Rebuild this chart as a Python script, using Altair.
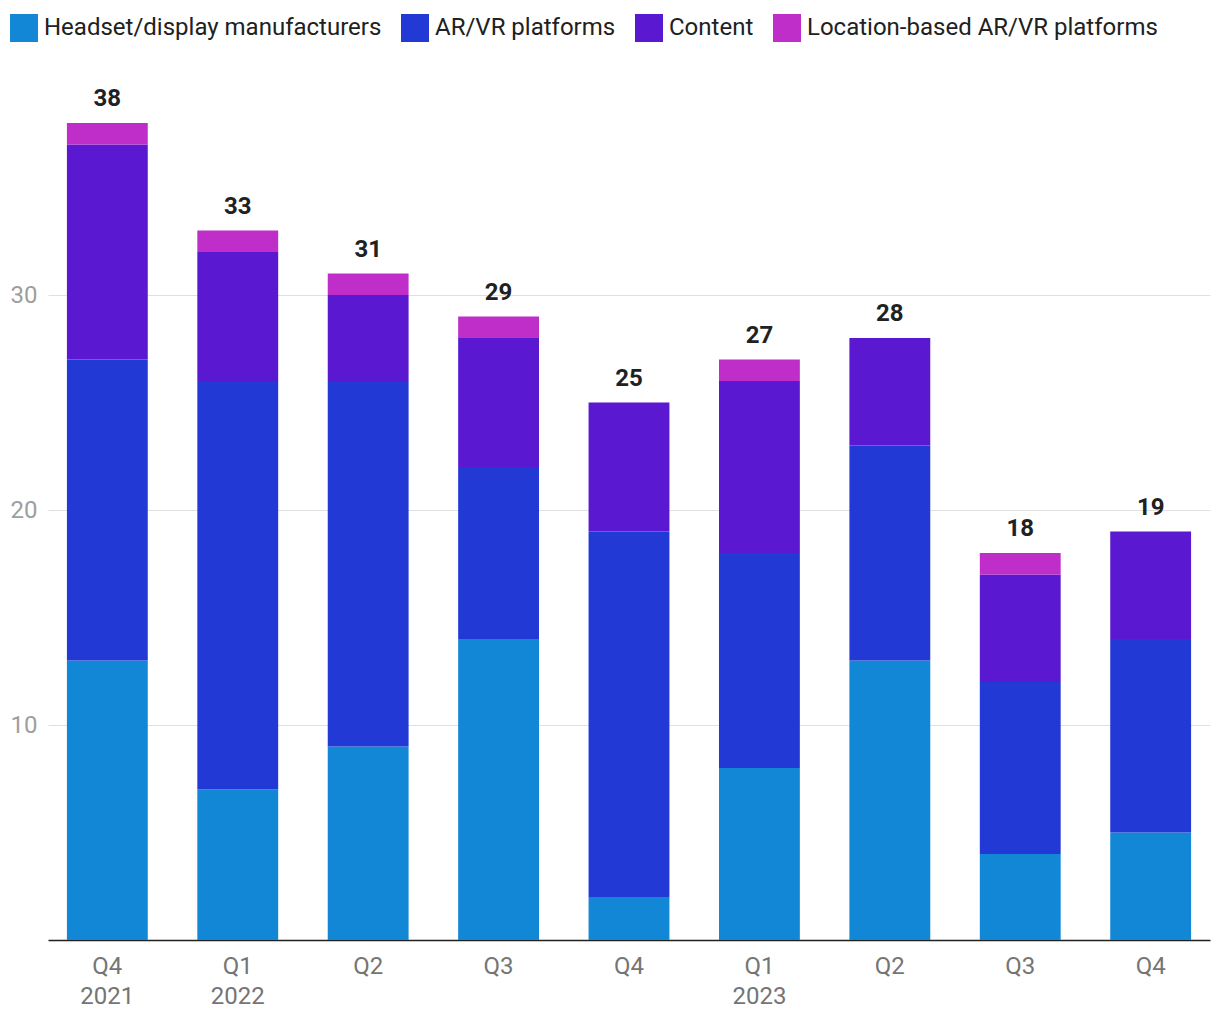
import altair as alt
import pandas as pd

quarters = ["Q4 2021", "Q1 2022", "Q2 2022", "Q3 2022", "Q4 2022",
            "Q1 2023", "Q2 2023", "Q3 2023", "Q4 2023"]
year_shown = ["Q4 2021", "Q1 2022", "Q1 2023"]
series = ["Headset/display manufacturers", "AR/VR platforms", "Content",
          "Location-based AR/VR platforms"]
colors = ["#1287d6", "#2339d5", "#5a19d1", "#c02ec9"]

headset = [13, 7, 9, 14, 2, 8, 13, 4, 5]
arvr = [14, 19, 17, 8, 17, 10, 10, 8, 9]
content = [10, 6, 4, 6, 6, 8, 5, 5, 5]
location = [1, 1, 1, 1, 0, 1, 0, 1, 0]

values_by_series = [headset, arvr, content, location]
rows = []
for si, (name, vals) in enumerate(zip(series, values_by_series)):
    for q, v in zip(quarters, vals):
        rows.append({"quarter": q, "series": name, "value": v, "idx": si})
df = pd.DataFrame(rows)

totals = pd.DataFrame({
    "quarter": quarters,
    "total": [sum(v[i] for v in values_by_series) for i in range(len(quarters))],
})

label_expr = ("indexof([" + ",".join("'" + q + "'" for q in year_shown) +
              "], datum.value) >= 0 ? split(datum.value, ' ') : split(datum.value, ' ')[0]")

x_enc = alt.X("quarter:N", sort=quarters, title=None,
              scale=alt.Scale(paddingInner=0.38, paddingOuter=0.145),
              axis=alt.Axis(labelExpr=label_expr, labelAngle=0, labelFontSize=24,
                            labelColor="#757575", labelLineHeight=30,
                            labelPadding=14, ticks=False, tickSize=0,
                            domainColor="#212121", domainWidth=1.5, grid=False))

bars = alt.Chart(df).mark_bar().encode(
    x=x_enc,
    y=alt.Y("value:Q", stack="zero", title=None,
            scale=alt.Scale(domain=[0, 40], nice=False),
            axis=alt.Axis(values=[10, 20, 30], labelFontSize=24, labelColor="#9e9e9e",
                          ticks=False, tickSize=0, domain=False, labelPadding=11,
                          gridColor="#e0e0e0", gridWidth=1)),
    color=alt.Color("series:N", sort=series,
                    scale=alt.Scale(domain=series, range=colors),
                    legend=alt.Legend(title=None, orient="none", legendX=-38, legendY=-66,
                                      direction="horizontal", columns=4,
                                      symbolType="square", symbolSize=784,
                                      symbolStrokeWidth=0, labelFontSize=24,
                                      labelColor="#212121", labelOffset=6,
                                      columnPadding=19, labelLimit=500)),
    order=alt.Order("idx:Q", sort="ascending"),
)

text = alt.Chart(totals).mark_text(baseline="alphabetic", dy=-17, fontSize=24,
                                   fontWeight="bold", color="#212121").encode(
    x=alt.X("quarter:N", sort=quarters),
    y=alt.Y("total:Q"),
    text=alt.Text("total:Q"),
)

chart = alt.layer(bars, text).properties(
    width=1162, height=860,
    autosize=alt.AutoSizeParams(type="none"),
    padding={"left": 48, "top": 80, "right": 10, "bottom": 80},
).configure(font="Roboto").configure_view(stroke=None)

chart.save("out.html", embed_options={"renderer": "svg", "actions": False})
